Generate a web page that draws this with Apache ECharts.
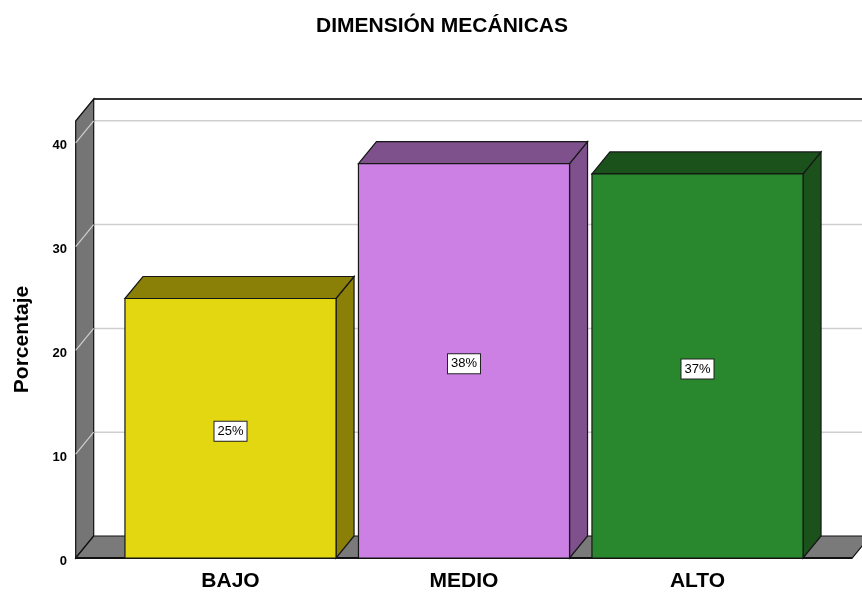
<!DOCTYPE html>
<html>
<head>
<meta charset="utf-8">
<script src="https://cdn.jsdelivr.net/npm/echarts@6/dist/echarts.min.js"></script>
<style>
  html, body { margin: 0; padding: 0; background: #fff; }
  #chart { width: 862px; height: 592px; }
</style>
</head>
<body>
<div id="chart"></div>
<script>
// data
const categories = ['BAJO', 'MEDIO', 'ALTO']
const percentages = [25, 38, 37]
const gridTicks = [10, 20, 30, 40]
const frontColors = ['#E3D711', '#CC80E4', '#29872D']
const darkColors = ['#8A8008', '#7E508C', '#1B511A']

const yMax = 42.1
// depth of the 3d effect
const DX = 18
const DY = -22
const FONT = '"Liberation Sans", Arial, sans-serif'

function renderWalls(params, api) {
  const bw = api.size([1, 0])[0]
  const pad = bw * 0.163
  const first = api.coord([0, 0])
  const last = api.coord([categories.length - 1, 0])
  const x0 = first[0] - bw / 2 - pad
  const x1 = last[0] + bw / 2 + pad
  const yb = first[1]
  const yt = api.coord([0, yMax])[1]
  const children = []
  // back wall
  children.push({
    type: 'rect',
    shape: { x: x0 + DX, y: yt + DY, width: x1 - x0 + 40, height: yb - yt },
    style: { fill: '#fff', stroke: null }
  })
  // grid lines on back wall + left wall
  gridTicks.forEach(function (t) {
    const y = api.coord([0, t])[1]
    children.push({
      type: 'polyline',
      shape: { points: [[x0, y], [x0 + DX, y + DY], [x1 + DX + 40, y + DY]] },
      style: { stroke: '#cfcfcf', lineWidth: 1.5, fill: null }
    })
  })
  // top edge of back wall
  children.push({
    type: 'line',
    shape: { x1: x0 + DX, y1: yt + DY, x2: x1 + DX + 40, y2: yt + DY },
    style: { stroke: '#333', lineWidth: 2 }
  })
  // left wall
  children.push({
    type: 'polygon',
    shape: { points: [[x0, yt], [x0 + DX, yt + DY], [x0 + DX, yb + DY], [x0, yb]] },
    style: { fill: '#757575', stroke: '#111', lineWidth: 1.2 },
    z2: 1
  })
  gridTicks.forEach(function (t) {
    const y = api.coord([0, t])[1]
    children.push({
      type: 'line',
      shape: { x1: x0, y1: y, x2: x0 + DX, y2: y + DY },
      style: { stroke: '#cfcfcf', lineWidth: 1.2 },
      z2: 2
    })
  })
  // floor
  children.push({
    type: 'polygon',
    shape: { points: [[x0, yb], [x0 + DX, yb + DY], [x1 + DX, yb + DY], [x1, yb]] },
    style: { fill: '#7a7a7a', stroke: '#111', lineWidth: 1.2 },
    z2: 1
  })
  children.push({
    type: 'line',
    shape: { x1: x0, y1: yb, x2: x1, y2: yb },
    style: { stroke: '#111', lineWidth: 2 },
    z2: 3
  })
  return { type: 'group', children: children }
}

function renderBar(params, api) {
  const i = api.value(0)
  const v = api.value(1)
  const top = api.coord([i, v])
  const base = api.coord([i, 0])
  const w = api.size([1, 0])[0] * 0.904
  const l = top[0] - w / 2
  const r = top[0] + w / 2
  const yt = top[1]
  const yb = base[1]
  const edge = { stroke: '#161616', lineWidth: 1.2 }
  return {
    type: 'group',
    children: [
      {
        type: 'polygon',
        shape: { points: [[r, yt], [r + DX, yt + DY], [r + DX, yb + DY], [r, yb]] },
        style: Object.assign({ fill: darkColors[i] }, edge)
      },
      {
        type: 'polygon',
        shape: { points: [[l, yt], [l + DX, yt + DY], [r + DX, yt + DY], [r, yt]] },
        style: Object.assign({ fill: darkColors[i] }, edge)
      },
      {
        type: 'rect',
        shape: { x: l, y: yt, width: w, height: yb - yt },
        style: Object.assign({ fill: frontColors[i] }, edge),
        textContent: {
          style: {
            text: percentages[i] + '%',
            fontSize: 13,
            fontFamily: FONT,
            fill: '#000',
            backgroundColor: '#fff',
            borderColor: '#222',
            borderWidth: 1,
            padding: [4, 3, 2, 3]
          }
        },
        textConfig: { position: 'inside', offset: [0, 3] }
      }
    ]
  }
}

const chart = echarts.init(document.getElementById('chart'))
chart.setOption({
  backgroundColor: '#fff',
  animation: false,
  title: {
    text: 'DIMENSIÓN MECÁNICAS',
    left: 311,
    top: 11,
    textStyle: { fontSize: 21, fontWeight: 'bold', color: '#000', fontFamily: FONT }
  },
  grid: { left: 113.75, right: 47.75, top: 121, bottom: 33 },
  xAxis: {
    type: 'category',
    data: categories,
    axisLine: { show: false },
    axisTick: { show: false },
    splitLine: { show: false },
    axisLabel: { fontSize: 21, fontWeight: 'bold', color: '#000', margin: 13, fontFamily: FONT }
  },
  yAxis: {
    type: 'value',
    min: 0,
    max: yMax,
    interval: 10,
    offset: 37.75,
    axisLine: { show: false },
    axisTick: { show: false },
    splitLine: { show: false },
    axisLabel: {
      fontSize: 13,
      fontWeight: 'bold',
      color: '#000',
      margin: 9,
      verticalAlign: 'top',
      lineHeight: 6,
      fontFamily: FONT,
      formatter: function (v) { return v % 10 === 0 ? v : '' }
    },
    name: 'Porcentaje',
    nameLocation: 'middle',
    nameGap: 43,
    nameTextStyle: { fontSize: 21, fontWeight: 'bold', color: '#000', fontFamily: FONT }
  },
  series: [
    {
      type: 'custom',
      renderItem: renderWalls,
      data: [[0, 0]],
      encode: { x: 0, y: 1 },
      clip: false,
      silent: true,
      z: 1
    },
    {
      type: 'custom',
      renderItem: renderBar,
      data: percentages.map(function (v, i) { return [i, v] }),
      encode: { x: 0, y: 1 },
      clip: false,
      z: 2
    }
  ]
})
</script>
</body>
</html>
